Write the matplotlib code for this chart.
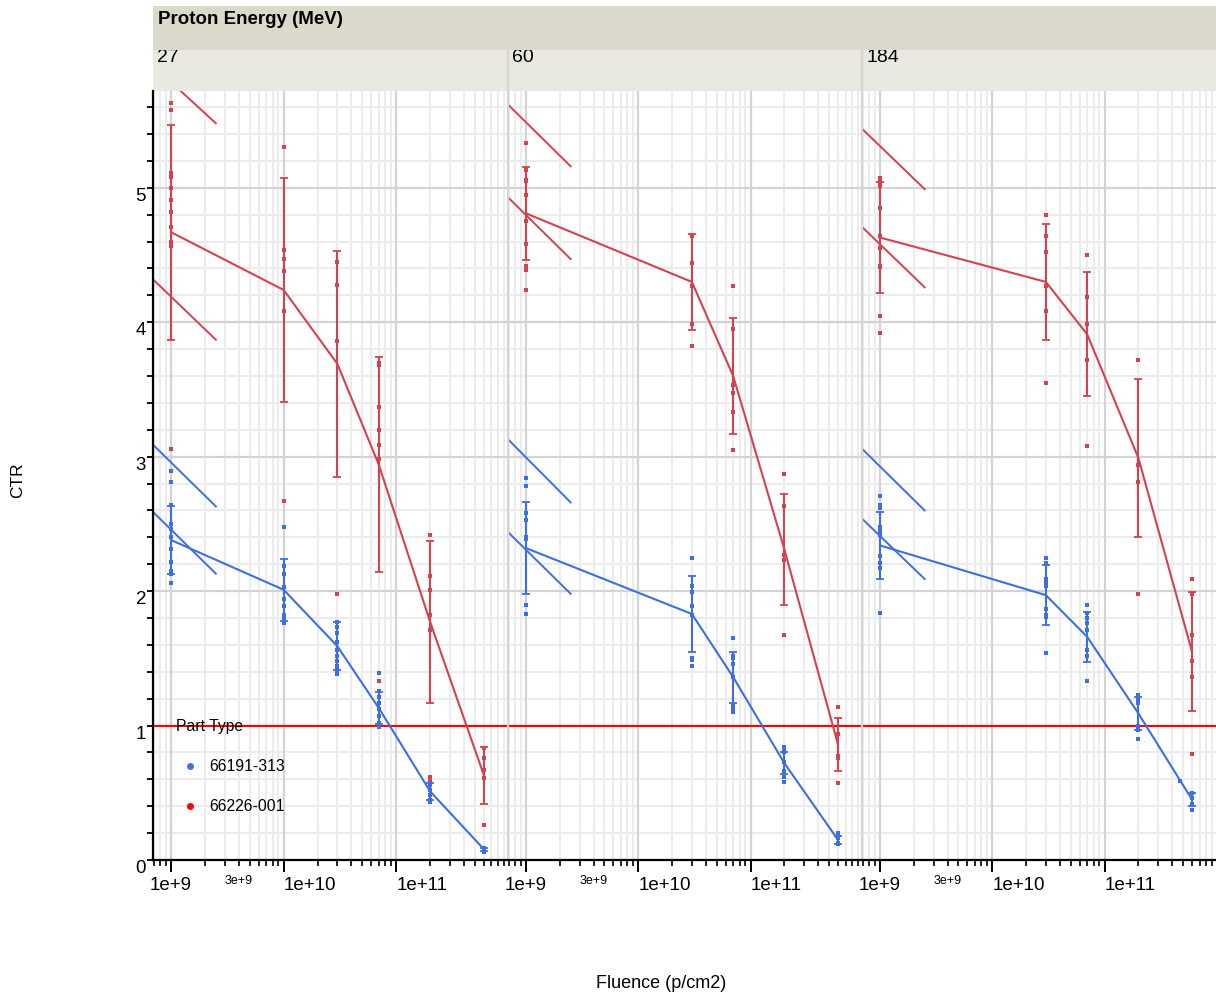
import matplotlib
matplotlib.use("Agg")
import matplotlib.pyplot as plt
from matplotlib.lines import Line2D
from matplotlib.ticker import FixedLocator

plt.rcParams['font.family'] = ['Liberation Sans', 'DejaVu Sans']

# ---------------------------------------------------------------- data
ENERGIES = ['27', '60', '184']
PARTS = ['66191-313', '66226-001']

FLUENCE_27 = [1e9, 1e10, 3e10, 7e10, 2e11, 6e11]
FLUENCE_60 = [1e9, 3e10, 7e10, 2e11, 6e11]
FLUENCE_184 = [1e9, 3e10, 7e10, 2e11, 6e11]

# Part 66191-313
CTR_313_27 = [
    [2.89, 2.81, 2.64, 2.50, 2.46, 2.40, 2.31, 2.22, 2.15, 2.13, 2.06],
    [2.48, 2.19, 2.13, 2.03, 1.94, 1.89, 1.82, 1.79, 1.76],
    [1.77, 1.73, 1.69, 1.62, 1.56, 1.52, 1.48, 1.44, 1.41, 1.38],
    [1.39, 1.26, 1.21, 1.17, 1.12, 1.07, 1.02, 0.99],
    [0.59, 0.56, 0.52, 0.48, 0.45, 0.43],
    [0.09, 0.07, 0.06],
]
MEAN_313_27 = [2.38, 2.01, 1.59, 1.13, 0.51, 0.08]
SD_313_27 = [0.25, 0.23, 0.18, 0.12, 0.06, 0.01]

CTR_313_60 = [
    [2.84, 2.78, 2.58, 2.53, 2.40, 2.39, 1.90, 1.83],
    [2.25, 2.04, 1.99, 1.89, 1.82, 1.50, 1.49, 1.44],
    [1.65, 1.52, 1.50, 1.46, 1.36, 1.15, 1.13, 1.10],
    [0.84, 0.82, 0.80, 0.73, 0.66, 0.62, 0.58],
    [0.20, 0.18, 0.16, 0.13, 0.12],
]
MEAN_313_60 = [2.32, 1.83, 1.36, 0.72, 0.15]
SD_313_60 = [0.34, 0.28, 0.19, 0.08, 0.03]

CTR_313_184 = [
    [2.71, 2.64, 2.62, 2.48, 2.45, 2.42, 2.26, 2.21, 2.17, 1.84],
    [2.25, 2.21, 2.09, 2.06, 2.04, 1.87, 1.82, 1.81, 1.54],
    [1.90, 1.84, 1.80, 1.76, 1.71, 1.56, 1.52, 1.33],
    [1.23, 1.20, 1.17, 1.00, 0.97, 0.90],
    [0.50, 0.46, 0.42, 0.37],
]
MEAN_313_184 = [2.34, 1.97, 1.66, 1.09, 0.45]
SD_313_184 = [0.25, 0.225, 0.185, 0.12, 0.05]
EXTRA_313_184_X = [4.7e11]
EXTRA_313_184_Y = [0.59]

# Part 66226-001
CTR_001_27 = [
    [5.63, 5.58, 5.11, 5.08, 5.00, 4.91, 4.82, 4.71, 4.60, 4.57, 3.06],
    [5.30, 4.54, 4.47, 4.38, 4.08, 2.67],
    [4.45, 4.28, 3.86, 1.98],
    [3.70, 3.68, 3.37, 3.20, 3.09, 2.98, 1.33],
    [2.42, 2.11, 2.01, 1.82, 1.71, 0.62, 0.60],
    [0.83, 0.76, 0.67, 0.61, 0.26],
]
MEAN_001_27 = [4.67, 4.24, 3.69, 2.94, 1.77, 0.63]
SD_001_27 = [0.80, 0.83, 0.84, 0.80, 0.60, 0.21]

CTR_001_60 = [
    [5.33, 5.13, 5.06, 5.05, 4.95, 4.75, 4.58, 4.42, 4.40, 4.39, 4.24],
    [4.65, 4.64, 4.44, 4.27, 3.99, 3.82],
    [4.27, 3.95, 3.53, 3.47, 3.33, 3.05],
    [2.87, 2.63, 2.27, 2.23, 1.67],
    [1.14, 0.94, 0.77, 0.76, 0.57],
]
MEAN_001_60 = [4.81, 4.30, 3.60, 2.31, 0.86]
SD_001_60 = [0.345, 0.355, 0.435, 0.415, 0.195]

CTR_001_184 = [
    [5.07, 5.04, 5.01, 4.85, 4.64, 4.55, 4.42, 4.41, 4.05, 3.92],
    [4.80, 4.64, 4.52, 4.27, 4.08, 3.55],
    [4.50, 4.19, 3.99, 3.72, 3.08],
    [3.72, 2.94, 2.81, 1.98],
    [2.09, 1.98, 1.67, 1.48, 1.36, 0.79],
]
MEAN_001_184 = [4.63, 4.30, 3.91, 2.99, 1.55]
SD_001_184 = [0.41, 0.43, 0.46, 0.59, 0.44]

# Short reference segments at low fluence (start, end) for each panel
GUIDE_X = [6.9e8, 2.5e9]
GUIDE_313_27 = [[3.09, 2.63], [2.59, 2.13]]
GUIDE_001_27 = [[5.91, 5.48], [4.32, 3.87]]
GUIDE_313_60 = [[3.13, 2.66], [2.44, 1.98]]
GUIDE_001_60 = [[5.62, 5.16], [4.93, 4.47]]
GUIDE_313_184 = [[3.06, 2.60], [2.54, 2.09]]
GUIDE_001_184 = [[5.44, 4.99], [4.71, 4.26]]

THRESHOLD = 1.0

X_MAJOR = [1e9, 1e10, 1e11]
X_MAJOR_LABELS = ['1e+9', '1e+10', '1e+11']
X_MINOR_LABELED = 3e9
X_MINOR_LABEL = '3e+9'
Y_MAJOR = [0, 1, 2, 3, 4, 5]

# ---------------------------------------------------------------- style
BLUE = '#3E6EE0'
RED = '#D5424F'
LEGEND_COLORS = ['#3F6FE3', '#FF0000']
W, H = 1216, 993
XLIM = (10 ** 8.84, 10 ** 11.992)
YLIM = (0, 5.72)


def rect(x0, y0, x1, y1):
    return [x0 / W, 1 - y1 / H, (x1 - x0) / W, (y1 - y0) / H]


fig = plt.figure(figsize=(W / 100, H / 100), dpi=100)

panel_cols = [(153, 508), (508, 862), (862, 1216)]
panels = [
    (ENERGIES[0], FLUENCE_27,
     [(CTR_313_27, MEAN_313_27, SD_313_27, GUIDE_313_27, BLUE),
      (CTR_001_27, MEAN_001_27, SD_001_27, GUIDE_001_27, RED)]),
    (ENERGIES[1], FLUENCE_60,
     [(CTR_313_60, MEAN_313_60, SD_313_60, GUIDE_313_60, BLUE),
      (CTR_001_60, MEAN_001_60, SD_001_60, GUIDE_001_60, RED)]),
    (ENERGIES[2], FLUENCE_184,
     [(CTR_313_184, MEAN_313_184, SD_313_184, GUIDE_313_184, BLUE),
      (CTR_001_184, MEAN_001_184, SD_001_184, GUIDE_001_184, RED)]),
]

# group header strip
hdr = fig.add_axes(rect(153, 6, 1216, 50))
hdr.set_facecolor('#DAD9CB')
hdr.set_xticks([])
hdr.set_yticks([])
for s in hdr.spines.values():
    s.set_visible(False)
hdr.text(5 / 1063, 0.70, 'Proton Energy (MeV)', transform=hdr.transAxes,
         fontsize=13.5, fontweight='bold', ha='left', va='center')

minor_x = []
for dec in [1e8, 1e9, 1e10, 1e11]:
    for m in range(2, 10):
        v = m * dec
        if XLIM[0] <= v <= XLIM[1]:
            minor_x.append(v)
minor_y = [round(0.2 * i, 1) for i in range(0, 29) if round(0.2 * i, 1) not in Y_MAJOR]

axes = []
for i, ((x0, x1), (energy, flu, series)) in enumerate(zip(panel_cols, panels)):
    # level strip
    st = fig.add_axes(rect(x0, 50, x1, 91))
    st.set_facecolor('#E9E9E1')
    st.set_xticks([])
    st.set_yticks([])
    for s in st.spines.values():
        s.set_visible(False)
    if i > 0:
        st.spines['left'].set_visible(True)
        st.spines['left'].set_color('#D6D6D2')
        st.spines['left'].set_linewidth(1.6)
    st.text(4 / (x1 - x0), 29 / 41, energy, transform=st.transAxes,
            fontsize=14, ha='left', va='baseline', clip_on=True)

    ax = fig.add_axes(rect(x0, 91, x1, 860))
    axes.append(ax)
    ax.set_xscale('log')
    ax.set_xlim(*XLIM)
    ax.set_ylim(*YLIM)

    # grid
    for v in minor_x:
        ax.axvline(v, color='#ECECEC', lw=1.5, zorder=0)
    for v in X_MAJOR:
        ax.axvline(v, color='#D3D3D3', lw=1.6, zorder=0.1)
    for v in minor_y:
        ax.axhline(v, color='#ECECEC', lw=1.5, zorder=0)
    for v in Y_MAJOR[1:]:
        ax.axhline(v, color='#D3D3D3', lw=1.6, zorder=0.1)

    ax.axhline(THRESHOLD, color='#FF0000', lw=1.5, zorder=1.5)

    for pts, mean, sd, guide, col in series:
        for g in guide:
            ax.plot(GUIDE_X, g, color=col, lw=1.4, zorder=2)
        for fx, ys in zip(flu, pts):
            ax.plot([fx] * len(ys), ys, ls='none', marker='s', ms=2.8,
                    mew=0, color=col, zorder=3)
        ax.errorbar(flu, mean, yerr=sd, fmt='none', ecolor=col,
                    elinewidth=1.5, capsize=3, capthick=1.3, zorder=3)
        ax.plot(flu, mean, color=col, lw=1.5, zorder=3)
    if energy == '184':
        ax.plot(EXTRA_313_184_X, EXTRA_313_184_Y, ls='none', marker='s',
                ms=2.8, mew=0, color=BLUE, zorder=3)

    # spines
    for side in ['top', 'right']:
        ax.spines[side].set_visible(False)
    ax.spines['bottom'].set_color('black')
    ax.spines['bottom'].set_linewidth(1.6)
    if i == 0:
        ax.spines['left'].set_color('black')
        ax.spines['left'].set_linewidth(1.6)
    else:
        ax.spines['left'].set_color('#D6D6D6')
        ax.spines['left'].set_linewidth(1.6)

    # x ticks
    ax.xaxis.set_major_locator(FixedLocator(X_MAJOR))
    ax.set_xticklabels(X_MAJOR_LABELS)
    ax.set_xticks(minor_x, labels=[X_MINOR_LABEL if abs(v - X_MINOR_LABELED) < 1 else ''
                                   for v in minor_x], minor=True)
    ax.tick_params(axis='x', which='major', length=8.6, width=1.4, pad=3.5,
                   labelsize=13.5, direction='out')
    ax.tick_params(axis='x', which='minor', length=4, width=1.2, pad=6.5,
                   labelsize=9, direction='out')
    for lab, v in zip(ax.get_xticklabels(), X_MAJOR):
        lab.set_ha('center' if v == 1e9 else 'left')
    for lab in ax.get_xticklabels(minor=True):
        lab.set_ha('left')

    # y ticks
    if i == 0:
        ax.set_yticks(Y_MAJOR)
        ax.set_yticklabels([str(v) for v in Y_MAJOR])
        ax.set_yticks(minor_y, minor=True)
        ax.tick_params(axis='y', which='both', length=4.5, width=1.3, pad=0.5,
                       labelsize=13.5, direction='out')
        for lab in ax.get_yticklabels():
            lab.set_va('top')
    else:
        ax.set_yticks([])
        ax.set_yticks([], minor=True)

# legend in first panel
handles = [Line2D([], [], ls='none', marker='o', ms=5, mew=0, color=c)
           for c in LEGEND_COLORS]
leg = axes[0].legend(handles, PARTS, title='Part Type', frameon=False,
                     loc='upper left',
                     bbox_to_anchor=(176 / W, 1 - 719 / H),
                     bbox_transform=fig.transFigure,
                     alignment='left', fontsize=11.3, title_fontsize=11.3,
                     labelspacing=1.6, handlelength=1.73, handletextpad=0.4,
                     borderpad=0, borderaxespad=0)

fig.text(18 / W, 1 - 480 / H, 'CTR', rotation=90, fontsize=12.5,
         ha='center', va='center')
fig.text(661 / W, 1 - 983 / H, 'Fluence (p/cm2)', fontsize=13,
         ha='center', va='center')

fig.savefig('out.png', dpi=100)
